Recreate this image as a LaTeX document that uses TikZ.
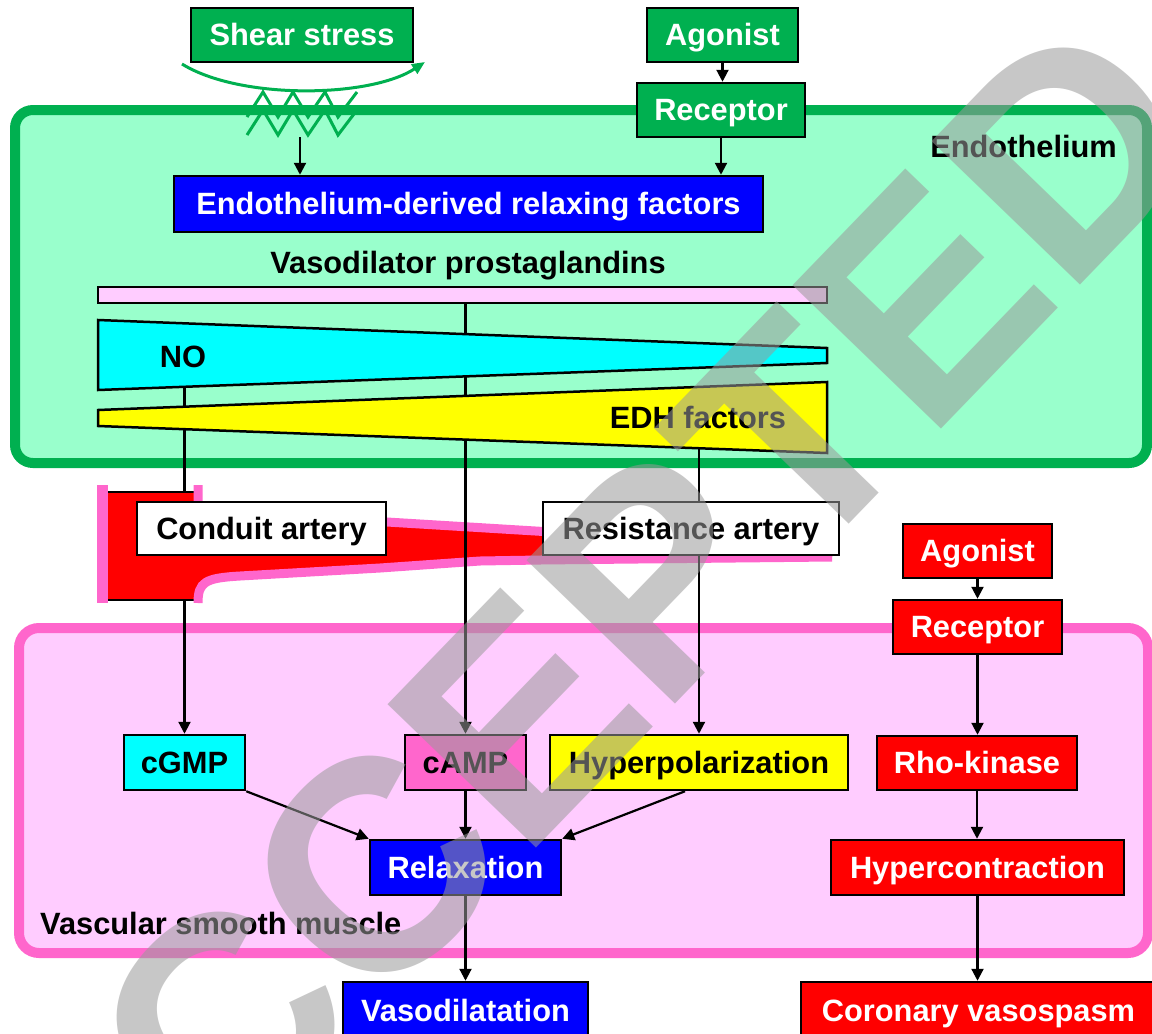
\documentclass[tikz,border=0pt]{standalone}
\usepackage{fontspec}
\setmainfont{Liberation Sans}
\usetikzlibrary{arrows.meta,calc}
\definecolor{dgreen}{HTML}{00B050}
\definecolor{mint}{HTML}{99FFCC}
\definecolor{bblue}{HTML}{0000FF}
\definecolor{ccyan}{HTML}{00FFFF}
\definecolor{yyellow}{HTML}{FFFF00}
\definecolor{pinkf}{HTML}{FFCCFF}
\definecolor{pinkb}{HTML}{FF66CC}
\definecolor{rred}{HTML}{FF0000}
\newcommand{\fs}{\fontsize{30.8}{32}\selectfont\bfseries}
\pgfdeclarelayer{L0}\pgfdeclarelayer{L1}\pgfdeclarelayer{L2}\pgfdeclarelayer{L3}\pgfdeclarelayer{L4}
\pgfsetlayers{L0,L1,L2,L3,L4,main}
\begin{document}
\begin{tikzpicture}[x=1pt,y=-1pt,
  box/.style={draw=black, line width=2.5pt, inner sep=0pt, font=\fs, text height=21.8pt, text depth=0pt, align=center},
  wbox/.style={box, text=white},
  ar/.style={line width=2.2pt, -{Triangle[width=12pt,length=12pt]}},
  lbl/.style={font=\fs, inner sep=0pt, text height=21.8pt, text depth=0pt}]
\useasboundingbox (0,0) rectangle (1152,1034);

% ---- backgrounds
\begin{pgfonlayer}{L0}
\fill[white] (0,0) rectangle (1152,1034);
\draw[line width=10pt, draw=dgreen, fill=mint, rounded corners=18pt] (15,110) rectangle (1147,463);
\draw[line width=10pt, draw=pinkb, fill=pinkf, rounded corners=20pt] (19,628) rectangle (1148,953);
\end{pgfonlayer}

% ---- region labels
\node[lbl, anchor=east] (endolbl) at (1117,147) {Endothelium};
\node[lbl, anchor=west] (vsmlbl) at (40,924) {Vascular smooth muscle};
\node[lbl] (vplbl) at (468,263) {Vasodilator prostaglandins};
\node[lbl] (nolbl) at (183,357) {NO};
\node[lbl] (edhlbl) at (698,418) {EDH factors};

% ---- endothelial nodes
\node[wbox, fill=dgreen, minimum width=222pt, minimum height=54pt] (shear) at (302,35) {Shear stress};
\node[wbox, fill=dgreen, minimum width=151pt, minimum height=54pt] (ag1) at (722.5,35) {Agonist};
\node[wbox, fill=dgreen, minimum width=168pt, minimum height=54pt] (rec1) at (721,110) {Receptor};
\node[wbox, fill=bblue, minimum width=589pt, minimum height=56pt] (edrf) at (468.5,204) {Endothelium-derived relaxing factors};

% ---- arteries
\node[box, fill=white, minimum width=249pt, minimum height=53pt] (conduit) at (261.5,528.5) {Conduit artery};
\node[box, fill=white, minimum width=296pt, minimum height=53pt] (resist) at (691,528.5) {Resistance artery};

% ---- smooth muscle nodes
\node[box, fill=ccyan, minimum width=121pt, minimum height=55pt] (cgmp) at (184.5,762.5) {cGMP};
\node[box, fill=pinkb, minimum width=121pt, minimum height=55pt] (camp) at (465.5,762.5) {cAMP};
\node[box, fill=yyellow, minimum width=298pt, minimum height=55pt] (hyperpol) at (699,762.5) {Hyperpolarization};
\node[wbox, fill=bblue, minimum width=191pt, minimum height=55pt] (relax) at (465.5,867.5) {Relaxation};
\node[wbox, fill=bblue, minimum width=245pt, minimum height=58pt] (vasod) at (465.5,1011) {Vasodilatation};

% ---- red column
\node[wbox, fill=rred, minimum width=149pt, minimum height=54pt] (ag2) at (977.5,551) {Agonist};
\node[wbox, fill=rred, minimum width=169pt, minimum height=54pt] (rec2) at (977.5,627) {Receptor};
\node[wbox, fill=rred, minimum width=200pt, minimum height=54pt] (rho) at (977,763) {Rho-kinase};
\node[wbox, fill=rred, minimum width=293pt, minimum height=55pt] (hyper) at (977.5,867.5) {Hypercontraction};
\node[wbox, fill=rred, minimum width=355pt, minimum height=58pt] (cor) at (978.5,1011) {Coronary vasospasm};

% ---- coordinates for wedge outputs
\coordinate (shearin) at (300,137);
\coordinate (noS) at (184.5,385);
\coordinate (vpS) at (465.5,300);
\coordinate (edhS) at (699,440);

% ---- shear stress symbol
\draw[dgreen, line width=3pt, -{Triangle[width=11pt,length=13pt]}] (182,64) .. controls (240,100) and (370,98) .. (425,62);
\draw[dgreen, line width=3pt] (247,117)--(263,92)--(278,117)--(293,92)--(308,117)--(325,92)--(338,117)--(357,92);
\draw[dgreen, line width=3pt] (247,135)--(263,110)--(278,135)--(293,110)--(308,135)--(325,110)--(338,135)--(357,110);

% ---- top connectors
\draw[ar] (shearin) -- (shearin |- edrf.north);
\draw[ar] (ag1.south) -- (ag1.south |- rec1.north);
\draw[ar] (rec1.south) -- (rec1.south |- edrf.north);

% ---- vertical pathways
\begin{pgfonlayer}{L1}
\draw[ar] (noS) -- (cgmp.north);
\end{pgfonlayer}
\begin{pgfonlayer}{L2}
\fill[rred] (198,505) -- (387,522) -- (832,549) -- (832,557) -- (540,560) -- (480,561) -- (380,568) -- (240,576) .. controls (205,578) and (198,582) .. (198,600) -- cycle;
\fill[rred] (108,492) rectangle (198,600);
\draw[black, line width=1.5pt] (108,492) -- (198,492) (108,600) -- (198,600);
\draw[pinkb, line width=9pt] (198,485) -- (198,508) -- (387,522) -- (832,549);
\draw[pinkb, line width=9pt] (832,557) -- (540,560) -- (480,561) -- (380,568) -- (240,576) .. controls (205,578) and (198,582) .. (198,603);
\draw[pinkb, line width=11pt] (102.5,485) -- (102.5,603);
\end{pgfonlayer}
\begin{pgfonlayer}{L3}
\draw[ar] (vpS) -- (camp.north);
\draw[ar] (edhS) -- (hyperpol.north);
\end{pgfonlayer}
\begin{pgfonlayer}{L4}
\draw[line width=2.5pt, fill=pinkf] (98,287) rectangle (827,303);
\draw[line width=2.5pt, fill=ccyan] (98,320) -- (827,348) -- (827,363) -- (98,390) -- cycle;
\draw[line width=2.5pt, fill=yyellow] (98,410) -- (827,382) -- (827,453) -- (98,426) -- cycle;
\end{pgfonlayer}

% ---- lower connectors
\draw[ar] (cgmp.south east) -- (relax.north west);
\draw[ar] (camp.south) -- (relax.north);
\draw[ar] ([xshift=-14pt]hyperpol.south) -- (relax.north east);
\draw[ar] (relax.south) -- (vasod.north);
\draw[ar] (ag2.south) -- (rec2.north);
\draw[ar] (rec2.south) -- (rec2.south |- rho.north);
\draw[ar] (rho.south) -- (rho.south |- hyper.north);
\draw[ar] (hyper.south) -- (hyper.south |- cor.north);

% ---- watermark
\node[font=\fontsize{300}{300}\selectfont\bfseries, text=black!40, opacity=0.55, rotate=46, inner sep=0pt] (wm) at (570,665) {ACCEPTED};
\end{tikzpicture}
\end{document}
